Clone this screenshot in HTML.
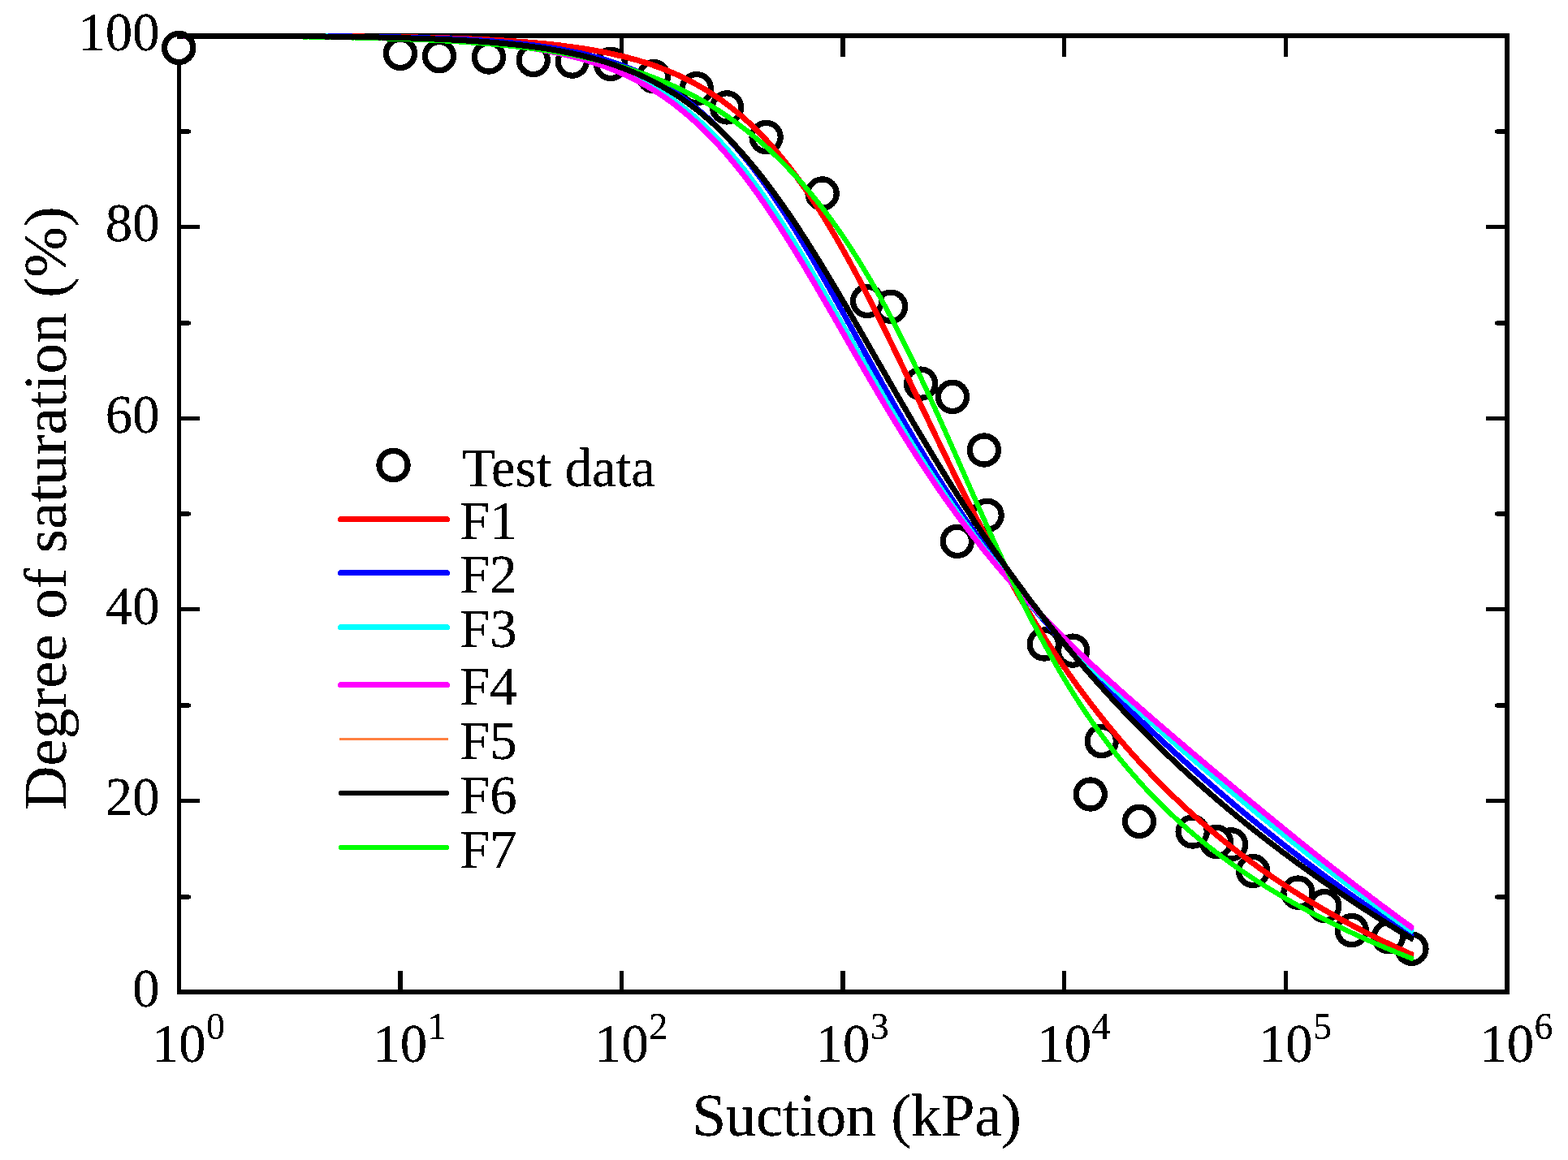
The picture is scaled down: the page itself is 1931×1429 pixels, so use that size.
<!DOCTYPE html>
<html lang="en"><head><meta charset="utf-8"><title>Degree of saturation vs suction</title>
<style>html,body{margin:0;padding:0;background:#fff;}body{width:1931px;height:1429px;overflow:hidden;}svg{display:block;}text{font-family:"Liberation Serif",serif;fill:#000;filter:url(#tf);}</style></head><body>
<svg width="1931" height="1429" viewBox="0 0 1931 1429">
<rect width="1931" height="1429" fill="#fff"/>
<defs><filter id="tf" x="-5%" y="-5%" width="110%" height="110%" color-interpolation-filters="sRGB"><feComponentTransfer><feFuncA type="discrete" tableValues="0 1 1"/></feComponentTransfer></filter><clipPath id="cc"><rect x="0" y="0" width="1741.30" height="1429"/></clipPath></defs>
<g fill="#000" shape-rendering="crispEdges">
<rect x="218" y="41" width="5" height="1184"/>
<rect x="1853" y="41" width="6" height="1184"/>
<rect x="218" y="41" width="1641" height="6"/>
<rect x="218" y="1219" width="1641" height="6"/>
<rect x="490" y="1196" width="6" height="24"/>
<rect x="490" y="46" width="6" height="24"/>
<rect x="763" y="1196" width="5" height="24"/>
<rect x="763" y="46" width="5" height="24"/>
<rect x="1035" y="1196" width="6" height="24"/>
<rect x="1035" y="46" width="6" height="24"/>
<rect x="1308" y="1196" width="5" height="24"/>
<rect x="1308" y="46" width="5" height="24"/>
<rect x="1581" y="1196" width="5" height="24"/>
<rect x="1581" y="46" width="5" height="24"/>
<rect x="222" y="984" width="24" height="5"/>
<rect x="1830" y="984" width="24" height="5"/>
<rect x="222" y="748" width="24" height="5"/>
<rect x="1830" y="748" width="24" height="5"/>
<rect x="222" y="513" width="24" height="5"/>
<rect x="1830" y="513" width="24" height="5"/>
<rect x="222" y="277" width="24" height="5"/>
<rect x="1830" y="277" width="24" height="5"/>
<rect x="222" y="1102" width="11" height="6"/>
<rect x="233" y="1103" width="2" height="4"/>
<rect x="1843" y="1102" width="11" height="6"/>
<rect x="1841" y="1103" width="2" height="4"/>
<rect x="222" y="866" width="11" height="6"/>
<rect x="233" y="867" width="2" height="4"/>
<rect x="1843" y="866" width="11" height="6"/>
<rect x="1841" y="867" width="2" height="4"/>
<rect x="222" y="630" width="11" height="6"/>
<rect x="233" y="631" width="2" height="4"/>
<rect x="1843" y="630" width="11" height="6"/>
<rect x="1841" y="631" width="2" height="4"/>
<rect x="222" y="395" width="11" height="6"/>
<rect x="233" y="396" width="2" height="4"/>
<rect x="1843" y="395" width="11" height="6"/>
<rect x="1841" y="396" width="2" height="4"/>
<rect x="222" y="159" width="11" height="6"/>
<rect x="233" y="160" width="2" height="4"/>
<rect x="1843" y="159" width="11" height="6"/>
<rect x="1841" y="160" width="2" height="4"/>
</g>
<g fill="#fff" stroke="#000" stroke-width="7.20" shape-rendering="crispEdges">
<circle cx="1738.4" cy="1168.7" r="17.60"/>
<circle cx="1709.9" cy="1154.2" r="17.60"/>
<circle cx="1664.7" cy="1146.1" r="17.60"/>
<circle cx="1631.3" cy="1116.1" r="17.60"/>
<circle cx="1598.5" cy="1099.6" r="17.60"/>
<circle cx="1543.1" cy="1073.0" r="17.60"/>
<circle cx="1516.1" cy="1040.3" r="17.60"/>
<circle cx="1498.0" cy="1036.9" r="17.60"/>
<circle cx="1468.7" cy="1024.5" r="17.60"/>
<circle cx="1403.0" cy="1011.9" r="17.60"/>
<circle cx="1342.8" cy="978.5" r="17.60"/>
<circle cx="1356.7" cy="913.0" r="17.60"/>
<circle cx="1321.2" cy="801.6" r="17.60"/>
<circle cx="1285.8" cy="793.5" r="17.60"/>
<circle cx="1178.8" cy="666.8" r="17.60"/>
<circle cx="1215.6" cy="634.8" r="17.60"/>
<circle cx="1211.9" cy="554.5" r="17.60"/>
<circle cx="1173.0" cy="488.8" r="17.60"/>
<circle cx="1134.1" cy="472.6" r="17.60"/>
<circle cx="1097.0" cy="377.7" r="17.60"/>
<circle cx="1068.1" cy="370.8" r="17.60"/>
<circle cx="1012.6" cy="238.5" r="17.60"/>
<circle cx="943.6" cy="169.0" r="17.60"/>
<circle cx="895.1" cy="132.4" r="17.60"/>
<circle cx="857.8" cy="109.2" r="17.60"/>
<circle cx="804.9" cy="94.1" r="17.60"/>
<circle cx="752.1" cy="78.9" r="17.60"/>
<circle cx="704.8" cy="75.6" r="17.60"/>
<circle cx="656.7" cy="73.9" r="17.60"/>
<circle cx="601.9" cy="70.5" r="17.60"/>
<circle cx="541.0" cy="69.1" r="17.60"/>
<circle cx="493.0" cy="65.8" r="17.60"/>
<circle cx="220.2" cy="59.0" r="17.60"/>
</g>
<g fill="none" stroke-width="7.00" stroke-linejoin="round" clip-path="url(#cc)" shape-rendering="crispEdges">
<path stroke="#ff0000" d="M218.0 44.0 L220.4 44.0 L223.4 44.0 L226.4 44.0 L229.4 44.0 L232.4 44.0 L235.4 44.0 L238.4 44.0 L241.4 44.0 L244.4 44.0 L247.4 44.0 L250.4 44.0 L253.4 44.0 L256.4 44.0 L259.4 44.0 L262.4 44.0 L265.4 44.0 L268.4 44.0 L271.4 44.0 L274.4 44.0 L277.4 44.0 L280.4 44.1 L283.4 44.1 L286.4 44.1 L289.4 44.1 L292.4 44.1 L295.4 44.1 L298.4 44.1 L301.4 44.1 L304.4 44.1 L307.4 44.1 L310.4 44.1 L313.4 44.1 L316.4 44.1 L319.4 44.2 L322.4 44.2 L325.4 44.2 L328.4 44.2 L331.4 44.2 L334.4 44.2 L337.4 44.2 L340.4 44.2 L343.4 44.2 L346.4 44.3 L349.4 44.3 L352.4 44.3 L355.4 44.3 L358.4 44.3 L361.4 44.3 L364.4 44.3 L367.4 44.3 L370.4 44.4 L373.4 44.4 L376.4 44.4 L379.4 44.4 L382.4 44.4 L385.4 44.4 L388.4 44.5 L391.4 44.5 L394.4 44.5 L397.4 44.5 L400.4 44.5 L403.4 44.6 L406.4 44.6 L409.4 44.6 L412.4 44.6 L415.4 44.7 L418.4 44.7 L421.4 44.7 L424.4 44.7 L427.4 44.8 L430.4 44.8 L433.4 44.8 L436.4 44.8 L439.4 44.9 L442.4 44.9 L445.4 44.9 L448.4 45.0 L451.4 45.0 L454.4 45.0 L457.4 45.1 L460.4 45.1 L463.4 45.1 L466.4 45.2 L469.4 45.2 L472.4 45.3 L475.4 45.3 L478.4 45.4 L481.4 45.4 L484.4 45.4 L487.4 45.5 L490.4 45.5 L493.4 45.6 L496.4 45.6 L499.4 45.7 L502.4 45.8 L505.4 45.8 L508.4 45.9 L511.4 45.9 L514.4 46.0 L517.4 46.1 L520.4 46.1 L523.4 46.2 L526.4 46.3 L529.4 46.3 L532.4 46.4 L535.4 46.5 L538.4 46.6 L541.4 46.7 L544.4 46.7 L547.4 46.8 L550.4 46.9 L553.4 47.0 L556.4 47.1 L559.4 47.2 L562.4 47.3 L565.4 47.4 L568.4 47.5 L571.4 47.6 L574.4 47.7 L577.4 47.9 L580.4 48.0 L583.4 48.1 L586.4 48.2 L589.4 48.4 L592.4 48.5 L595.4 48.6 L598.4 48.8 L601.4 48.9 L604.4 49.1 L607.4 49.2 L610.4 49.4 L613.4 49.6 L616.4 49.7 L619.4 49.9 L622.4 50.1 L625.4 50.3 L628.4 50.5 L631.4 50.7 L634.4 50.9 L637.4 51.1 L640.4 51.3 L643.4 51.5 L646.4 51.7 L649.4 52.0 L652.4 52.2 L655.4 52.5 L658.4 52.7 L661.4 53.0 L664.4 53.3 L667.4 53.6 L670.4 53.8 L673.4 54.1 L676.4 54.5 L679.4 54.8 L682.4 55.1 L685.4 55.4 L688.4 55.8 L691.4 56.1 L694.4 56.5 L697.4 56.9 L700.4 57.3 L703.4 57.7 L706.4 58.1 L709.4 58.5 L712.4 58.9 L715.4 59.4 L718.4 59.8 L721.4 60.3 L724.4 60.8 L727.4 61.3 L730.4 61.8 L733.4 62.3 L736.4 62.9 L739.4 63.4 L742.4 64.0 L745.4 64.6 L748.4 65.2 L751.4 65.9 L754.4 66.5 L757.4 67.2 L760.4 67.9 L763.4 68.6 L766.4 69.3 L769.4 70.0 L772.4 70.8 L775.4 71.6 L778.4 72.4 L781.4 73.2 L784.4 74.1 L787.4 75.0 L790.4 75.9 L793.4 76.8 L796.4 77.8 L799.4 78.7 L802.4 79.7 L805.4 80.8 L808.4 81.8 L811.4 82.9 L814.4 84.1 L817.4 85.2 L820.4 86.4 L823.4 87.6 L826.4 88.9 L829.4 90.2 L832.4 91.5 L835.4 92.8 L838.4 94.2 L841.4 95.7 L844.4 97.1 L847.4 98.6 L850.4 100.2 L853.4 101.8 L856.4 103.4 L859.4 105.0 L862.4 106.8 L865.4 108.5 L868.4 110.3 L871.4 112.1 L874.4 114.0 L877.4 116.0 L880.4 118.0 L883.4 120.0 L886.4 122.1 L889.4 124.2 L892.4 126.4 L895.4 128.6 L898.4 130.9 L901.4 133.3 L904.4 135.7 L907.4 138.1 L910.4 140.6 L913.4 143.2 L916.4 145.8 L919.4 148.5 L922.4 151.3 L925.4 154.1 L928.4 156.9 L931.4 159.9 L934.4 162.9 L937.4 165.9 L940.4 169.0 L943.4 172.2 L946.4 175.5 L949.4 178.8 L952.4 182.2 L955.4 185.6 L958.4 189.1 L961.4 192.7 L964.4 196.4 L967.4 200.1 L970.4 203.9 L973.4 207.8 L976.4 211.7 L979.4 215.7 L982.4 219.8 L985.4 223.9 L988.4 228.1 L991.4 232.4 L994.4 236.8 L997.4 241.2 L1000.4 245.7 L1003.4 250.2 L1006.4 254.8 L1009.4 259.5 L1012.4 264.3 L1015.4 269.1 L1018.4 274.0 L1021.4 278.9 L1024.4 284.0 L1027.4 289.0 L1030.4 294.2 L1033.4 299.4 L1036.4 304.6 L1039.4 310.0 L1042.4 315.4 L1045.4 320.8 L1048.4 326.3 L1051.4 331.8 L1054.4 337.4 L1057.4 343.1 L1060.4 348.8 L1063.4 354.5 L1066.4 360.3 L1069.4 366.1 L1072.4 372.0 L1075.4 377.9 L1078.4 383.9 L1081.4 389.9 L1084.4 395.9 L1087.4 401.9 L1090.4 408.0 L1093.4 414.1 L1096.4 420.3 L1099.4 426.4 L1102.4 432.6 L1105.4 438.8 L1108.4 445.1 L1111.4 451.3 L1114.4 457.6 L1117.4 463.8 L1120.4 470.1 L1123.4 476.4 L1126.4 482.7 L1129.4 489.0 L1132.4 495.3 L1135.4 501.6 L1138.4 507.9 L1141.4 514.1 L1144.4 520.4 L1147.4 526.7 L1150.4 533.0 L1153.4 539.2 L1156.4 545.4 L1159.4 551.7 L1162.4 557.9 L1165.4 564.0 L1168.4 570.2 L1171.4 576.4 L1174.4 582.5 L1177.4 588.6 L1180.4 594.6 L1183.4 600.7 L1186.4 606.7 L1189.4 612.7 L1192.4 618.6 L1195.4 624.5 L1198.4 630.4 L1201.4 636.3 L1204.4 642.1 L1207.4 647.9 L1210.4 653.6 L1213.4 659.3 L1216.4 665.0 L1219.4 670.6 L1222.4 676.2 L1225.4 681.8 L1228.4 687.3 L1231.4 692.8 L1234.4 698.2 L1237.4 703.6 L1240.4 708.9 L1243.4 714.2 L1246.4 719.5 L1249.4 724.7 L1252.4 729.9 L1255.4 735.0 L1258.4 740.1 L1261.4 745.2 L1264.4 750.2 L1267.4 755.1 L1270.4 760.1 L1273.4 764.9 L1276.4 769.8 L1279.4 774.6 L1282.4 779.3 L1285.4 784.0 L1288.4 788.7 L1291.4 793.3 L1294.4 797.9 L1297.4 802.4 L1300.4 806.9 L1303.4 811.4 L1306.4 815.8 L1309.4 820.2 L1312.4 824.5 L1315.4 828.8 L1318.4 833.0 L1321.4 837.3 L1324.4 841.4 L1327.4 845.6 L1330.4 849.7 L1333.4 853.7 L1336.4 857.8 L1339.4 861.7 L1342.4 865.7 L1345.4 869.6 L1348.4 873.5 L1351.4 877.3 L1354.4 881.1 L1357.4 884.9 L1360.4 888.6 L1363.4 892.3 L1366.4 896.0 L1369.4 899.6 L1372.4 903.2 L1375.4 906.8 L1378.4 910.3 L1381.4 913.8 L1384.4 917.3 L1387.4 920.8 L1390.4 924.2 L1393.4 927.5 L1396.4 930.9 L1399.4 934.2 L1402.4 937.5 L1405.4 940.7 L1408.4 944.0 L1411.4 947.2 L1414.4 950.3 L1417.4 953.5 L1420.4 956.6 L1423.4 959.7 L1426.4 962.8 L1429.4 965.8 L1432.4 968.8 L1435.4 971.8 L1438.4 974.7 L1441.4 977.7 L1444.4 980.6 L1447.4 983.4 L1450.4 986.3 L1453.4 989.1 L1456.4 991.9 L1459.4 994.7 L1462.4 997.5 L1465.4 1000.2 L1468.4 1002.9 L1471.4 1005.6 L1474.4 1008.3 L1477.4 1010.9 L1480.4 1013.5 L1483.4 1016.1 L1486.4 1018.7 L1489.4 1021.2 L1492.4 1023.8 L1495.4 1026.3 L1498.4 1028.8 L1501.4 1031.2 L1504.4 1033.7 L1507.4 1036.1 L1510.4 1038.5 L1513.4 1040.9 L1516.4 1043.3 L1519.4 1045.6 L1522.4 1048.0 L1525.4 1050.3 L1528.4 1052.6 L1531.4 1054.8 L1534.4 1057.1 L1537.4 1059.3 L1540.4 1061.6 L1543.4 1063.8 L1546.4 1065.9 L1549.4 1068.1 L1552.4 1070.3 L1555.4 1072.4 L1558.4 1074.5 L1561.4 1076.6 L1564.4 1078.7 L1567.4 1080.7 L1570.4 1082.8 L1573.4 1084.8 L1576.4 1086.8 L1579.4 1088.8 L1582.4 1090.8 L1585.4 1092.8 L1588.4 1094.7 L1591.4 1096.7 L1594.4 1098.6 L1597.4 1100.5 L1600.4 1102.4 L1603.4 1104.3 L1606.4 1106.1 L1609.4 1108.0 L1612.4 1109.8 L1615.4 1111.7 L1618.4 1113.5 L1621.4 1115.3 L1624.4 1117.0 L1627.4 1118.8 L1630.4 1120.6 L1633.4 1122.3 L1636.4 1124.0 L1639.4 1125.7 L1642.4 1127.4 L1645.4 1129.1 L1648.4 1130.8 L1651.4 1132.5 L1654.4 1134.1 L1657.4 1135.7 L1660.4 1137.4 L1663.4 1139.0 L1666.4 1140.6 L1669.4 1142.2 L1672.4 1143.8 L1675.4 1145.3 L1678.4 1146.9 L1681.4 1148.4 L1684.4 1150.0 L1687.4 1151.5 L1690.4 1153.0 L1693.4 1154.5 L1696.4 1156.0 L1699.4 1157.5 L1702.4 1158.9 L1705.4 1160.4 L1708.4 1161.8 L1711.4 1163.3 L1714.4 1164.7 L1717.4 1166.1 L1720.4 1167.5 L1723.4 1168.9 L1726.4 1170.3 L1729.4 1171.7 L1732.4 1173.1 L1735.4 1174.4 L1738.4 1175.8 L1741.0 1176.9"/>
<path stroke="#0000ff" d="M218.0 44.0 L220.4 44.0 L223.4 44.0 L226.4 44.0 L229.4 44.0 L232.4 44.0 L235.4 44.0 L238.4 44.0 L241.4 44.0 L244.4 44.0 L247.4 44.0 L250.4 44.0 L253.4 44.0 L256.4 44.0 L259.4 44.0 L262.4 44.0 L265.4 44.0 L268.4 44.0 L271.4 44.0 L274.4 44.1 L277.4 44.1 L280.4 44.1 L283.4 44.1 L286.4 44.1 L289.4 44.1 L292.4 44.1 L295.4 44.1 L298.4 44.1 L301.4 44.1 L304.4 44.1 L307.4 44.1 L310.4 44.1 L313.4 44.2 L316.4 44.2 L319.4 44.2 L322.4 44.2 L325.4 44.2 L328.4 44.2 L331.4 44.2 L334.4 44.2 L337.4 44.2 L340.4 44.3 L343.4 44.3 L346.4 44.3 L349.4 44.3 L352.4 44.3 L355.4 44.3 L358.4 44.4 L361.4 44.4 L364.4 44.4 L367.4 44.4 L370.4 44.4 L373.4 44.4 L376.4 44.5 L379.4 44.5 L382.4 44.5 L385.4 44.5 L388.4 44.5 L391.4 44.6 L394.4 44.6 L397.4 44.6 L400.4 44.6 L403.4 44.7 L406.4 44.7 L409.4 44.7 L412.4 44.7 L415.4 44.8 L418.4 44.8 L421.4 44.8 L424.4 44.9 L427.4 44.9 L430.4 44.9 L433.4 45.0 L436.4 45.0 L439.4 45.0 L442.4 45.1 L445.4 45.1 L448.4 45.2 L451.4 45.2 L454.4 45.2 L457.4 45.3 L460.4 45.3 L463.4 45.4 L466.4 45.4 L469.4 45.5 L472.4 45.5 L475.4 45.6 L478.4 45.7 L481.4 45.7 L484.4 45.8 L487.4 45.8 L490.4 45.9 L493.4 46.0 L496.4 46.0 L499.4 46.1 L502.4 46.2 L505.4 46.3 L508.4 46.3 L511.4 46.4 L514.4 46.5 L517.4 46.6 L520.4 46.7 L523.4 46.8 L526.4 46.9 L529.4 47.0 L532.4 47.1 L535.4 47.2 L538.4 47.3 L541.4 47.4 L544.4 47.5 L547.4 47.6 L550.4 47.7 L553.4 47.9 L556.4 48.0 L559.4 48.1 L562.4 48.3 L565.4 48.4 L568.4 48.5 L571.4 48.7 L574.4 48.9 L577.4 49.0 L580.4 49.2 L583.4 49.4 L586.4 49.5 L589.4 49.7 L592.4 49.9 L595.4 50.1 L598.4 50.3 L601.4 50.5 L604.4 50.7 L607.4 50.9 L610.4 51.2 L613.4 51.4 L616.4 51.7 L619.4 51.9 L622.4 52.2 L625.4 52.4 L628.4 52.7 L631.4 53.0 L634.4 53.3 L637.4 53.6 L640.4 53.9 L643.4 54.2 L646.4 54.6 L649.4 54.9 L652.4 55.3 L655.4 55.6 L658.4 56.0 L661.4 56.4 L664.4 56.8 L667.4 57.2 L670.4 57.6 L673.4 58.1 L676.4 58.5 L679.4 59.0 L682.4 59.5 L685.4 60.0 L688.4 60.5 L691.4 61.0 L694.4 61.5 L697.4 62.1 L700.4 62.7 L703.4 63.3 L706.4 63.9 L709.4 64.5 L712.4 65.2 L715.4 65.8 L718.4 66.5 L721.4 67.2 L724.4 68.0 L727.4 68.7 L730.4 69.5 L733.4 70.3 L736.4 71.1 L739.4 72.0 L742.4 72.8 L745.4 73.8 L748.4 74.7 L751.4 75.6 L754.4 76.6 L757.4 77.6 L760.4 78.7 L763.4 79.7 L766.4 80.8 L769.4 82.0 L772.4 83.1 L775.4 84.3 L778.4 85.6 L781.4 86.8 L784.4 88.1 L787.4 89.5 L790.4 90.9 L793.4 92.3 L796.4 93.7 L799.4 95.2 L802.4 96.8 L805.4 98.3 L808.4 100.0 L811.4 101.6 L814.4 103.3 L817.4 105.1 L820.4 106.9 L823.4 108.7 L826.4 110.6 L829.4 112.5 L832.4 114.5 L835.4 116.6 L838.4 118.7 L841.4 120.8 L844.4 123.0 L847.4 125.3 L850.4 127.6 L853.4 129.9 L856.4 132.3 L859.4 134.8 L862.4 137.3 L865.4 139.9 L868.4 142.6 L871.4 145.3 L874.4 148.0 L877.4 150.8 L880.4 153.7 L883.4 156.7 L886.4 159.7 L889.4 162.7 L892.4 165.9 L895.4 169.1 L898.4 172.3 L901.4 175.6 L904.4 179.0 L907.4 182.5 L910.4 186.0 L913.4 189.6 L916.4 193.2 L919.4 196.9 L922.4 200.7 L925.4 204.5 L928.4 208.4 L931.4 212.3 L934.4 216.3 L937.4 220.4 L940.4 224.6 L943.4 228.7 L946.4 233.0 L949.4 237.3 L952.4 241.7 L955.4 246.1 L958.4 250.6 L961.4 255.1 L964.4 259.7 L967.4 264.4 L970.4 269.1 L973.4 273.8 L976.4 278.6 L979.4 283.4 L982.4 288.3 L985.4 293.3 L988.4 298.2 L991.4 303.2 L994.4 308.3 L997.4 313.4 L1000.4 318.5 L1003.4 323.7 L1006.4 328.9 L1009.4 334.1 L1012.4 339.3 L1015.4 344.6 L1018.4 349.9 L1021.4 355.2 L1024.4 360.6 L1027.4 365.9 L1030.4 371.3 L1033.4 376.7 L1036.4 382.1 L1039.4 387.5 L1042.4 392.9 L1045.4 398.4 L1048.4 403.8 L1051.4 409.3 L1054.4 414.7 L1057.4 420.1 L1060.4 425.6 L1063.4 431.0 L1066.4 436.5 L1069.4 441.9 L1072.4 447.3 L1075.4 452.7 L1078.4 458.1 L1081.4 463.5 L1084.4 468.8 L1087.4 474.2 L1090.4 479.5 L1093.4 484.8 L1096.4 490.1 L1099.4 495.4 L1102.4 500.7 L1105.4 505.9 L1108.4 511.1 L1111.4 516.3 L1114.4 521.4 L1117.4 526.6 L1120.4 531.7 L1123.4 536.7 L1126.4 541.8 L1129.4 546.8 L1132.4 551.8 L1135.4 556.7 L1138.4 561.6 L1141.4 566.5 L1144.4 571.4 L1147.4 576.2 L1150.4 581.0 L1153.4 585.7 L1156.4 590.5 L1159.4 595.1 L1162.4 599.8 L1165.4 604.4 L1168.4 609.0 L1171.4 613.6 L1174.4 618.1 L1177.4 622.6 L1180.4 627.0 L1183.4 631.4 L1186.4 635.8 L1189.4 640.2 L1192.4 644.5 L1195.4 648.8 L1198.4 653.0 L1201.4 657.3 L1204.4 661.4 L1207.4 665.6 L1210.4 669.7 L1213.4 673.8 L1216.4 677.9 L1219.4 681.9 L1222.4 685.9 L1225.4 689.9 L1228.4 693.8 L1231.4 697.7 L1234.4 701.6 L1237.4 705.5 L1240.4 709.3 L1243.4 713.1 L1246.4 716.9 L1249.4 720.6 L1252.4 724.4 L1255.4 728.1 L1258.4 731.7 L1261.4 735.4 L1264.4 739.0 L1267.4 742.6 L1270.4 746.2 L1273.4 749.7 L1276.4 753.2 L1279.4 756.7 L1282.4 760.2 L1285.4 763.7 L1288.4 767.1 L1291.4 770.5 L1294.4 773.9 L1297.4 777.3 L1300.4 780.7 L1303.4 784.0 L1306.4 787.3 L1309.4 790.6 L1312.4 793.9 L1315.4 797.2 L1318.4 800.4 L1321.4 803.6 L1324.4 806.9 L1327.4 810.1 L1330.4 813.2 L1333.4 816.4 L1336.4 819.6 L1339.4 822.7 L1342.4 825.8 L1345.4 828.9 L1348.4 832.0 L1351.4 835.1 L1354.4 838.2 L1357.4 841.2 L1360.4 844.3 L1363.4 847.3 L1366.4 850.3 L1369.4 853.3 L1372.4 856.3 L1375.4 859.3 L1378.4 862.2 L1381.4 865.2 L1384.4 868.1 L1387.4 871.1 L1390.4 874.0 L1393.4 876.9 L1396.4 879.8 L1399.4 882.7 L1402.4 885.6 L1405.4 888.4 L1408.4 891.3 L1411.4 894.1 L1414.4 897.0 L1417.4 899.8 L1420.4 902.6 L1423.4 905.4 L1426.4 908.2 L1429.4 911.0 L1432.4 913.8 L1435.4 916.6 L1438.4 919.3 L1441.4 922.1 L1444.4 924.8 L1447.4 927.6 L1450.4 930.3 L1453.4 933.0 L1456.4 935.7 L1459.4 938.4 L1462.4 941.1 L1465.4 943.8 L1468.4 946.5 L1471.4 949.2 L1474.4 951.8 L1477.4 954.5 L1480.4 957.1 L1483.4 959.7 L1486.4 962.4 L1489.4 965.0 L1492.4 967.6 L1495.4 970.2 L1498.4 972.8 L1501.4 975.4 L1504.4 977.9 L1507.4 980.5 L1510.4 983.1 L1513.4 985.6 L1516.4 988.1 L1519.4 990.7 L1522.4 993.2 L1525.4 995.7 L1528.4 998.2 L1531.4 1000.7 L1534.4 1003.2 L1537.4 1005.7 L1540.4 1008.2 L1543.4 1010.6 L1546.4 1013.1 L1549.4 1015.5 L1552.4 1018.0 L1555.4 1020.4 L1558.4 1022.8 L1561.4 1025.2 L1564.4 1027.6 L1567.4 1030.0 L1570.4 1032.4 L1573.4 1034.8 L1576.4 1037.2 L1579.4 1039.5 L1582.4 1041.9 L1585.4 1044.2 L1588.4 1046.6 L1591.4 1048.9 L1594.4 1051.2 L1597.4 1053.5 L1600.4 1055.8 L1603.4 1058.1 L1606.4 1060.4 L1609.4 1062.7 L1612.4 1065.0 L1615.4 1067.2 L1618.4 1069.5 L1621.4 1071.7 L1624.4 1073.9 L1627.4 1076.2 L1630.4 1078.4 L1633.4 1080.6 L1636.4 1082.8 L1639.4 1085.0 L1642.4 1087.2 L1645.4 1089.3 L1648.4 1091.5 L1651.4 1093.7 L1654.4 1095.8 L1657.4 1098.0 L1660.4 1100.1 L1663.4 1102.2 L1666.4 1104.3 L1669.4 1106.4 L1672.4 1108.5 L1675.4 1110.6 L1678.4 1112.7 L1681.4 1114.8 L1684.4 1116.8 L1687.4 1118.9 L1690.4 1121.0 L1693.4 1123.0 L1696.4 1125.0 L1699.4 1127.0 L1702.4 1129.1 L1705.4 1131.1 L1708.4 1133.1 L1711.4 1135.1 L1714.4 1137.0 L1717.4 1139.0 L1720.4 1141.0 L1723.4 1143.0 L1726.4 1144.9 L1729.4 1146.8 L1732.4 1148.8 L1735.4 1150.7 L1738.4 1152.6 L1741.0 1154.3"/>
<path stroke="#00ffff" d="M218.0 44.0 L220.4 44.0 L223.4 44.0 L226.4 44.0 L229.4 44.0 L232.4 44.0 L235.4 44.0 L238.4 44.0 L241.4 44.1 L244.4 44.1 L247.4 44.1 L250.4 44.1 L253.4 44.1 L256.4 44.1 L259.4 44.1 L262.4 44.1 L265.4 44.1 L268.4 44.1 L271.4 44.1 L274.4 44.1 L277.4 44.1 L280.4 44.2 L283.4 44.2 L286.4 44.2 L289.4 44.2 L292.4 44.2 L295.4 44.2 L298.4 44.2 L301.4 44.2 L304.4 44.2 L307.4 44.3 L310.4 44.3 L313.4 44.3 L316.4 44.3 L319.4 44.3 L322.4 44.3 L325.4 44.3 L328.4 44.4 L331.4 44.4 L334.4 44.4 L337.4 44.4 L340.4 44.4 L343.4 44.4 L346.4 44.5 L349.4 44.5 L352.4 44.5 L355.4 44.5 L358.4 44.5 L361.4 44.6 L364.4 44.6 L367.4 44.6 L370.4 44.6 L373.4 44.7 L376.4 44.7 L379.4 44.7 L382.4 44.7 L385.4 44.8 L388.4 44.8 L391.4 44.8 L394.4 44.9 L397.4 44.9 L400.4 44.9 L403.4 45.0 L406.4 45.0 L409.4 45.0 L412.4 45.1 L415.4 45.1 L418.4 45.2 L421.4 45.2 L424.4 45.2 L427.4 45.3 L430.4 45.3 L433.4 45.4 L436.4 45.4 L439.4 45.5 L442.4 45.5 L445.4 45.6 L448.4 45.6 L451.4 45.7 L454.4 45.7 L457.4 45.8 L460.4 45.9 L463.4 45.9 L466.4 46.0 L469.4 46.1 L472.4 46.1 L475.4 46.2 L478.4 46.3 L481.4 46.3 L484.4 46.4 L487.4 46.5 L490.4 46.6 L493.4 46.7 L496.4 46.8 L499.4 46.9 L502.4 46.9 L505.4 47.0 L508.4 47.1 L511.4 47.2 L514.4 47.4 L517.4 47.5 L520.4 47.6 L523.4 47.7 L526.4 47.8 L529.4 47.9 L532.4 48.1 L535.4 48.2 L538.4 48.3 L541.4 48.5 L544.4 48.6 L547.4 48.8 L550.4 48.9 L553.4 49.1 L556.4 49.2 L559.4 49.4 L562.4 49.6 L565.4 49.8 L568.4 49.9 L571.4 50.1 L574.4 50.3 L577.4 50.5 L580.4 50.7 L583.4 51.0 L586.4 51.2 L589.4 51.4 L592.4 51.6 L595.4 51.9 L598.4 52.1 L601.4 52.4 L604.4 52.7 L607.4 52.9 L610.4 53.2 L613.4 53.5 L616.4 53.8 L619.4 54.1 L622.4 54.4 L625.4 54.8 L628.4 55.1 L631.4 55.4 L634.4 55.8 L637.4 56.2 L640.4 56.5 L643.4 56.9 L646.4 57.3 L649.4 57.7 L652.4 58.2 L655.4 58.6 L658.4 59.1 L661.4 59.5 L664.4 60.0 L667.4 60.5 L670.4 61.0 L673.4 61.5 L676.4 62.1 L679.4 62.6 L682.4 63.2 L685.4 63.8 L688.4 64.4 L691.4 65.0 L694.4 65.7 L697.4 66.3 L700.4 67.0 L703.4 67.7 L706.4 68.5 L709.4 69.2 L712.4 70.0 L715.4 70.7 L718.4 71.6 L721.4 72.4 L724.4 73.2 L727.4 74.1 L730.4 75.0 L733.4 76.0 L736.4 76.9 L739.4 77.9 L742.4 78.9 L745.4 79.9 L748.4 81.0 L751.4 82.1 L754.4 83.2 L757.4 84.4 L760.4 85.6 L763.4 86.8 L766.4 88.1 L769.4 89.4 L772.4 90.7 L775.4 92.0 L778.4 93.4 L781.4 94.9 L784.4 96.4 L787.4 97.9 L790.4 99.4 L793.4 101.0 L796.4 102.6 L799.4 104.3 L802.4 106.0 L805.4 107.8 L808.4 109.6 L811.4 111.4 L814.4 113.3 L817.4 115.2 L820.4 117.2 L823.4 119.3 L826.4 121.3 L829.4 123.5 L832.4 125.7 L835.4 127.9 L838.4 130.2 L841.4 132.5 L844.4 134.9 L847.4 137.3 L850.4 139.8 L853.4 142.4 L856.4 145.0 L859.4 147.6 L862.4 150.4 L865.4 153.1 L868.4 156.0 L871.4 158.8 L874.4 161.8 L877.4 164.8 L880.4 167.9 L883.4 171.0 L886.4 174.2 L889.4 177.4 L892.4 180.7 L895.4 184.1 L898.4 187.5 L901.4 190.9 L904.4 194.5 L907.4 198.1 L910.4 201.7 L913.4 205.5 L916.4 209.2 L919.4 213.1 L922.4 217.0 L925.4 220.9 L928.4 224.9 L931.4 229.0 L934.4 233.1 L937.4 237.3 L940.4 241.5 L943.4 245.8 L946.4 250.1 L949.4 254.5 L952.4 258.9 L955.4 263.4 L958.4 267.9 L961.4 272.5 L964.4 277.1 L967.4 281.8 L970.4 286.5 L973.4 291.3 L976.4 296.1 L979.4 300.9 L982.4 305.8 L985.4 310.7 L988.4 315.7 L991.4 320.6 L994.4 325.7 L997.4 330.7 L1000.4 335.8 L1003.4 340.9 L1006.4 346.0 L1009.4 351.1 L1012.4 356.3 L1015.4 361.5 L1018.4 366.7 L1021.4 371.9 L1024.4 377.1 L1027.4 382.4 L1030.4 387.6 L1033.4 392.9 L1036.4 398.2 L1039.4 403.5 L1042.4 408.7 L1045.4 414.0 L1048.4 419.3 L1051.4 424.6 L1054.4 429.9 L1057.4 435.1 L1060.4 440.4 L1063.4 445.7 L1066.4 450.9 L1069.4 456.2 L1072.4 461.4 L1075.4 466.6 L1078.4 471.8 L1081.4 477.0 L1084.4 482.1 L1087.4 487.3 L1090.4 492.4 L1093.4 497.5 L1096.4 502.6 L1099.4 507.7 L1102.4 512.7 L1105.4 517.7 L1108.4 522.7 L1111.4 527.7 L1114.4 532.6 L1117.4 537.5 L1120.4 542.4 L1123.4 547.2 L1126.4 552.0 L1129.4 556.8 L1132.4 561.6 L1135.4 566.3 L1138.4 571.0 L1141.4 575.7 L1144.4 580.3 L1147.4 584.9 L1150.4 589.4 L1153.4 594.0 L1156.4 598.5 L1159.4 602.9 L1162.4 607.4 L1165.4 611.7 L1168.4 616.1 L1171.4 620.4 L1174.4 624.7 L1177.4 629.0 L1180.4 633.2 L1183.4 637.4 L1186.4 641.6 L1189.4 645.7 L1192.4 649.8 L1195.4 653.8 L1198.4 657.9 L1201.4 661.9 L1204.4 665.8 L1207.4 669.8 L1210.4 673.7 L1213.4 677.5 L1216.4 681.4 L1219.4 685.2 L1222.4 689.0 L1225.4 692.7 L1228.4 696.4 L1231.4 700.1 L1234.4 703.8 L1237.4 707.4 L1240.4 711.0 L1243.4 714.6 L1246.4 718.1 L1249.4 721.7 L1252.4 725.2 L1255.4 728.6 L1258.4 732.1 L1261.4 735.5 L1264.4 738.9 L1267.4 742.3 L1270.4 745.6 L1273.4 748.9 L1276.4 752.2 L1279.4 755.5 L1282.4 758.8 L1285.4 762.0 L1288.4 765.2 L1291.4 768.4 L1294.4 771.6 L1297.4 774.8 L1300.4 777.9 L1303.4 781.0 L1306.4 784.2 L1309.4 787.2 L1312.4 790.3 L1315.4 793.4 L1318.4 796.4 L1321.4 799.4 L1324.4 802.4 L1327.4 805.4 L1330.4 808.4 L1333.4 811.3 L1336.4 814.3 L1339.4 817.2 L1342.4 820.1 L1345.4 823.0 L1348.4 825.9 L1351.4 828.8 L1354.4 831.7 L1357.4 834.5 L1360.4 837.4 L1363.4 840.2 L1366.4 843.0 L1369.4 845.8 L1372.4 848.7 L1375.4 851.4 L1378.4 854.2 L1381.4 857.0 L1384.4 859.8 L1387.4 862.5 L1390.4 865.3 L1393.4 868.0 L1396.4 870.7 L1399.4 873.5 L1402.4 876.2 L1405.4 878.9 L1408.4 881.6 L1411.4 884.3 L1414.4 887.0 L1417.4 889.7 L1420.4 892.3 L1423.4 895.0 L1426.4 897.7 L1429.4 900.3 L1432.4 903.0 L1435.4 905.6 L1438.4 908.3 L1441.4 910.9 L1444.4 913.5 L1447.4 916.2 L1450.4 918.8 L1453.4 921.4 L1456.4 924.0 L1459.4 926.6 L1462.4 929.2 L1465.4 931.8 L1468.4 934.4 L1471.4 937.0 L1474.4 939.6 L1477.4 942.2 L1480.4 944.7 L1483.4 947.3 L1486.4 949.9 L1489.4 952.4 L1492.4 955.0 L1495.4 957.5 L1498.4 960.1 L1501.4 962.6 L1504.4 965.2 L1507.4 967.7 L1510.4 970.2 L1513.4 972.7 L1516.4 975.3 L1519.4 977.8 L1522.4 980.3 L1525.4 982.8 L1528.4 985.3 L1531.4 987.8 L1534.4 990.3 L1537.4 992.8 L1540.4 995.3 L1543.4 997.8 L1546.4 1000.2 L1549.4 1002.7 L1552.4 1005.2 L1555.4 1007.6 L1558.4 1010.1 L1561.4 1012.5 L1564.4 1015.0 L1567.4 1017.4 L1570.4 1019.9 L1573.4 1022.3 L1576.4 1024.7 L1579.4 1027.1 L1582.4 1029.5 L1585.4 1032.0 L1588.4 1034.4 L1591.4 1036.8 L1594.4 1039.2 L1597.4 1041.5 L1600.4 1043.9 L1603.4 1046.3 L1606.4 1048.7 L1609.4 1051.0 L1612.4 1053.4 L1615.4 1055.7 L1618.4 1058.1 L1621.4 1060.4 L1624.4 1062.8 L1627.4 1065.1 L1630.4 1067.4 L1633.4 1069.7 L1636.4 1072.0 L1639.4 1074.3 L1642.4 1076.6 L1645.4 1078.9 L1648.4 1081.2 L1651.4 1083.5 L1654.4 1085.7 L1657.4 1088.0 L1660.4 1090.3 L1663.4 1092.5 L1666.4 1094.8 L1669.4 1097.0 L1672.4 1099.2 L1675.4 1101.4 L1678.4 1103.7 L1681.4 1105.9 L1684.4 1108.1 L1687.4 1110.3 L1690.4 1112.5 L1693.4 1114.6 L1696.4 1116.8 L1699.4 1119.0 L1702.4 1121.1 L1705.4 1123.3 L1708.4 1125.4 L1711.4 1127.6 L1714.4 1129.7 L1717.4 1131.8 L1720.4 1133.9 L1723.4 1136.0 L1726.4 1138.2 L1729.4 1140.2 L1732.4 1142.3 L1735.4 1144.4 L1738.4 1146.5 L1741.0 1148.3"/>
<path stroke="#ff00ff" d="M218.0 44.0 L220.4 44.0 L223.4 44.0 L226.4 44.0 L229.4 44.0 L232.4 44.0 L235.4 44.1 L238.4 44.1 L241.4 44.1 L244.4 44.1 L247.4 44.1 L250.4 44.1 L253.4 44.1 L256.4 44.1 L259.4 44.1 L262.4 44.1 L265.4 44.1 L268.4 44.1 L271.4 44.1 L274.4 44.2 L277.4 44.2 L280.4 44.2 L283.4 44.2 L286.4 44.2 L289.4 44.2 L292.4 44.2 L295.4 44.2 L298.4 44.2 L301.4 44.3 L304.4 44.3 L307.4 44.3 L310.4 44.3 L313.4 44.3 L316.4 44.3 L319.4 44.3 L322.4 44.4 L325.4 44.4 L328.4 44.4 L331.4 44.4 L334.4 44.4 L337.4 44.4 L340.4 44.5 L343.4 44.5 L346.4 44.5 L349.4 44.5 L352.4 44.5 L355.4 44.6 L358.4 44.6 L361.4 44.6 L364.4 44.6 L367.4 44.7 L370.4 44.7 L373.4 44.7 L376.4 44.7 L379.4 44.8 L382.4 44.8 L385.4 44.8 L388.4 44.9 L391.4 44.9 L394.4 44.9 L397.4 45.0 L400.4 45.0 L403.4 45.0 L406.4 45.1 L409.4 45.1 L412.4 45.1 L415.4 45.2 L418.4 45.2 L421.4 45.3 L424.4 45.3 L427.4 45.4 L430.4 45.4 L433.4 45.5 L436.4 45.5 L439.4 45.6 L442.4 45.6 L445.4 45.7 L448.4 45.7 L451.4 45.8 L454.4 45.9 L457.4 45.9 L460.4 46.0 L463.4 46.1 L466.4 46.1 L469.4 46.2 L472.4 46.3 L475.4 46.3 L478.4 46.4 L481.4 46.5 L484.4 46.6 L487.4 46.7 L490.4 46.8 L493.4 46.8 L496.4 46.9 L499.4 47.0 L502.4 47.1 L505.4 47.2 L508.4 47.3 L511.4 47.5 L514.4 47.6 L517.4 47.7 L520.4 47.8 L523.4 47.9 L526.4 48.1 L529.4 48.2 L532.4 48.3 L535.4 48.5 L538.4 48.6 L541.4 48.8 L544.4 48.9 L547.4 49.1 L550.4 49.2 L553.4 49.4 L556.4 49.6 L559.4 49.8 L562.4 49.9 L565.4 50.1 L568.4 50.3 L571.4 50.5 L574.4 50.7 L577.4 50.9 L580.4 51.2 L583.4 51.4 L586.4 51.6 L589.4 51.9 L592.4 52.1 L595.4 52.4 L598.4 52.6 L601.4 52.9 L604.4 53.2 L607.4 53.5 L610.4 53.8 L613.4 54.1 L616.4 54.4 L619.4 54.7 L622.4 55.1 L625.4 55.4 L628.4 55.8 L631.4 56.1 L634.4 56.5 L637.4 56.9 L640.4 57.3 L643.4 57.7 L646.4 58.2 L649.4 58.6 L652.4 59.1 L655.4 59.5 L658.4 60.0 L661.4 60.5 L664.4 61.0 L667.4 61.5 L670.4 62.1 L673.4 62.6 L676.4 63.2 L679.4 63.8 L682.4 64.4 L685.4 65.0 L688.4 65.7 L691.4 66.3 L694.4 67.0 L697.4 67.7 L700.4 68.4 L703.4 69.2 L706.4 69.9 L709.4 70.7 L712.4 71.5 L715.4 72.4 L718.4 73.2 L721.4 74.1 L724.4 75.0 L727.4 75.9 L730.4 76.9 L733.4 77.9 L736.4 78.9 L739.4 79.9 L742.4 81.0 L745.4 82.1 L748.4 83.2 L751.4 84.4 L754.4 85.5 L757.4 86.8 L760.4 88.0 L763.4 89.3 L766.4 90.6 L769.4 92.0 L772.4 93.4 L775.4 94.8 L778.4 96.3 L781.4 97.8 L784.4 99.3 L787.4 100.9 L790.4 102.6 L793.4 104.2 L796.4 105.9 L799.4 107.7 L802.4 109.5 L805.4 111.3 L808.4 113.2 L811.4 115.2 L814.4 117.1 L817.4 119.2 L820.4 121.2 L823.4 123.4 L826.4 125.5 L829.4 127.8 L832.4 130.0 L835.4 132.4 L838.4 134.7 L841.4 137.2 L844.4 139.7 L847.4 142.2 L850.4 144.8 L853.4 147.5 L856.4 150.2 L859.4 152.9 L862.4 155.8 L865.4 158.6 L868.4 161.6 L871.4 164.6 L874.4 167.6 L877.4 170.7 L880.4 173.9 L883.4 177.1 L886.4 180.4 L889.4 183.8 L892.4 187.2 L895.4 190.6 L898.4 194.1 L901.4 197.7 L904.4 201.4 L907.4 205.1 L910.4 208.8 L913.4 212.6 L916.4 216.5 L919.4 220.4 L922.4 224.4 L925.4 228.5 L928.4 232.6 L931.4 236.7 L934.4 240.9 L937.4 245.2 L940.4 249.5 L943.4 253.8 L946.4 258.2 L949.4 262.7 L952.4 267.2 L955.4 271.8 L958.4 276.4 L961.4 281.0 L964.4 285.7 L967.4 290.4 L970.4 295.2 L973.4 300.0 L976.4 304.8 L979.4 309.7 L982.4 314.6 L985.4 319.6 L988.4 324.5 L991.4 329.5 L994.4 334.6 L997.4 339.6 L1000.4 344.7 L1003.4 349.8 L1006.4 354.9 L1009.4 360.1 L1012.4 365.2 L1015.4 370.4 L1018.4 375.6 L1021.4 380.8 L1024.4 386.0 L1027.4 391.2 L1030.4 396.4 L1033.4 401.7 L1036.4 406.9 L1039.4 412.1 L1042.4 417.4 L1045.4 422.6 L1048.4 427.8 L1051.4 433.0 L1054.4 438.3 L1057.4 443.5 L1060.4 448.7 L1063.4 453.8 L1066.4 459.0 L1069.4 464.2 L1072.4 469.3 L1075.4 474.4 L1078.4 479.5 L1081.4 484.6 L1084.4 489.7 L1087.4 494.7 L1090.4 499.8 L1093.4 504.8 L1096.4 509.7 L1099.4 514.7 L1102.4 519.6 L1105.4 524.5 L1108.4 529.4 L1111.4 534.2 L1114.4 539.0 L1117.4 543.8 L1120.4 548.6 L1123.4 553.3 L1126.4 558.0 L1129.4 562.6 L1132.4 567.3 L1135.4 571.9 L1138.4 576.4 L1141.4 580.9 L1144.4 585.4 L1147.4 589.9 L1150.4 594.3 L1153.4 598.7 L1156.4 603.1 L1159.4 607.4 L1162.4 611.7 L1165.4 616.0 L1168.4 620.2 L1171.4 624.4 L1174.4 628.5 L1177.4 632.6 L1180.4 636.7 L1183.4 640.8 L1186.4 644.8 L1189.4 648.8 L1192.4 652.7 L1195.4 656.7 L1198.4 660.6 L1201.4 664.4 L1204.4 668.2 L1207.4 672.0 L1210.4 675.8 L1213.4 679.5 L1216.4 683.2 L1219.4 686.9 L1222.4 690.5 L1225.4 694.2 L1228.4 697.7 L1231.4 701.3 L1234.4 704.8 L1237.4 708.3 L1240.4 711.8 L1243.4 715.2 L1246.4 718.7 L1249.4 722.1 L1252.4 725.4 L1255.4 728.8 L1258.4 732.1 L1261.4 735.4 L1264.4 738.6 L1267.4 741.9 L1270.4 745.1 L1273.4 748.3 L1276.4 751.5 L1279.4 754.6 L1282.4 757.8 L1285.4 760.9 L1288.4 764.0 L1291.4 767.1 L1294.4 770.1 L1297.4 773.2 L1300.4 776.2 L1303.4 779.2 L1306.4 782.2 L1309.4 785.1 L1312.4 788.1 L1315.4 791.0 L1318.4 793.9 L1321.4 796.8 L1324.4 799.7 L1327.4 802.6 L1330.4 805.4 L1333.4 808.3 L1336.4 811.1 L1339.4 813.9 L1342.4 816.8 L1345.4 819.5 L1348.4 822.3 L1351.4 825.1 L1354.4 827.9 L1357.4 830.6 L1360.4 833.4 L1363.4 836.1 L1366.4 838.8 L1369.4 841.5 L1372.4 844.2 L1375.4 846.9 L1378.4 849.6 L1381.4 852.3 L1384.4 854.9 L1387.4 857.6 L1390.4 860.3 L1393.4 862.9 L1396.4 865.5 L1399.4 868.2 L1402.4 870.8 L1405.4 873.4 L1408.4 876.0 L1411.4 878.7 L1414.4 881.3 L1417.4 883.9 L1420.4 886.5 L1423.4 889.0 L1426.4 891.6 L1429.4 894.2 L1432.4 896.8 L1435.4 899.4 L1438.4 901.9 L1441.4 904.5 L1444.4 907.1 L1447.4 909.6 L1450.4 912.2 L1453.4 914.7 L1456.4 917.3 L1459.4 919.8 L1462.4 922.4 L1465.4 924.9 L1468.4 927.5 L1471.4 930.0 L1474.4 932.5 L1477.4 935.1 L1480.4 937.6 L1483.4 940.1 L1486.4 942.6 L1489.4 945.2 L1492.4 947.7 L1495.4 950.2 L1498.4 952.7 L1501.4 955.2 L1504.4 957.7 L1507.4 960.2 L1510.4 962.7 L1513.4 965.2 L1516.4 967.7 L1519.4 970.2 L1522.4 972.7 L1525.4 975.2 L1528.4 977.7 L1531.4 980.2 L1534.4 982.7 L1537.4 985.2 L1540.4 987.7 L1543.4 990.2 L1546.4 992.6 L1549.4 995.1 L1552.4 997.6 L1555.4 1000.0 L1558.4 1002.5 L1561.4 1005.0 L1564.4 1007.4 L1567.4 1009.9 L1570.4 1012.3 L1573.4 1014.8 L1576.4 1017.2 L1579.4 1019.7 L1582.4 1022.1 L1585.4 1024.6 L1588.4 1027.0 L1591.4 1029.4 L1594.4 1031.8 L1597.4 1034.3 L1600.4 1036.7 L1603.4 1039.1 L1606.4 1041.5 L1609.4 1043.9 L1612.4 1046.3 L1615.4 1048.7 L1618.4 1051.1 L1621.4 1053.5 L1624.4 1055.9 L1627.4 1058.3 L1630.4 1060.6 L1633.4 1063.0 L1636.4 1065.4 L1639.4 1067.7 L1642.4 1070.1 L1645.4 1072.4 L1648.4 1074.8 L1651.4 1077.1 L1654.4 1079.5 L1657.4 1081.8 L1660.4 1084.1 L1663.4 1086.4 L1666.4 1088.8 L1669.4 1091.1 L1672.4 1093.4 L1675.4 1095.7 L1678.4 1098.0 L1681.4 1100.2 L1684.4 1102.5 L1687.4 1104.8 L1690.4 1107.1 L1693.4 1109.3 L1696.4 1111.6 L1699.4 1113.8 L1702.4 1116.1 L1705.4 1118.3 L1708.4 1120.5 L1711.4 1122.8 L1714.4 1125.0 L1717.4 1127.2 L1720.4 1129.4 L1723.4 1131.6 L1726.4 1133.8 L1729.4 1136.0 L1732.4 1138.2 L1735.4 1140.3 L1738.4 1142.5 L1741.0 1144.4"/>
<path stroke="#00ff00" stroke-width="6.20" d="M218.0 44.3 L220.4 44.3 L223.4 44.3 L226.4 44.3 L229.4 44.3 L232.4 44.3 L235.4 44.3 L238.4 44.3 L241.4 44.3 L244.4 44.4 L247.4 44.4 L250.4 44.4 L253.4 44.4 L256.4 44.4 L259.4 44.4 L262.4 44.4 L265.4 44.4 L268.4 44.5 L271.4 44.5 L274.4 44.5 L277.4 44.5 L280.4 44.5 L283.4 44.5 L286.4 44.6 L289.4 44.6 L292.4 44.6 L295.4 44.6 L298.4 44.6 L301.4 44.7 L304.4 44.7 L307.4 44.7 L310.4 44.7 L313.4 44.8 L316.4 44.8 L319.4 44.8 L322.4 44.8 L325.4 44.9 L328.4 44.9 L331.4 44.9 L334.4 44.9 L337.4 45.0 L340.4 45.0 L343.4 45.0 L346.4 45.0 L349.4 45.1 L352.4 45.1 L355.4 45.1 L358.4 45.2 L361.4 45.2 L364.4 45.2 L367.4 45.3 L370.4 45.3 L373.4 45.4 L376.4 45.4 L379.4 45.4 L382.4 45.5 L385.4 45.5 L388.4 45.6 L391.4 45.6 L394.4 45.7 L397.4 45.7 L400.4 45.7 L403.4 45.8 L406.4 45.8 L409.4 45.9 L412.4 45.9 L415.4 46.0 L418.4 46.1 L421.4 46.1 L424.4 46.2 L427.4 46.2 L430.4 46.3 L433.4 46.4 L436.4 46.4 L439.4 46.5 L442.4 46.6 L445.4 46.6 L448.4 46.7 L451.4 46.8 L454.4 46.8 L457.4 46.9 L460.4 47.0 L463.4 47.1 L466.4 47.2 L469.4 47.2 L472.4 47.3 L475.4 47.4 L478.4 47.5 L481.4 47.6 L484.4 47.7 L487.4 47.8 L490.4 47.9 L493.4 48.0 L496.4 48.1 L499.4 48.2 L502.4 48.3 L505.4 48.4 L508.4 48.6 L511.4 48.7 L514.4 48.8 L517.4 48.9 L520.4 49.1 L523.4 49.2 L526.4 49.3 L529.4 49.5 L532.4 49.6 L535.4 49.8 L538.4 49.9 L541.4 50.1 L544.4 50.2 L547.4 50.4 L550.4 50.5 L553.4 50.7 L556.4 50.9 L559.4 51.1 L562.4 51.3 L565.4 51.4 L568.4 51.6 L571.4 51.8 L574.4 52.0 L577.4 52.2 L580.4 52.4 L583.4 52.7 L586.4 52.9 L589.4 53.1 L592.4 53.3 L595.4 53.6 L598.4 53.8 L601.4 54.1 L604.4 54.3 L607.4 54.6 L610.4 54.9 L613.4 55.1 L616.4 55.4 L619.4 55.7 L622.4 56.0 L625.4 56.3 L628.4 56.6 L631.4 56.9 L634.4 57.3 L637.4 57.6 L640.4 58.0 L643.4 58.3 L646.4 58.7 L649.4 59.0 L652.4 59.4 L655.4 59.8 L658.4 60.2 L661.4 60.6 L664.4 61.0 L667.4 61.4 L670.4 61.9 L673.4 62.3 L676.4 62.8 L679.4 63.2 L682.4 63.7 L685.4 64.2 L688.4 64.7 L691.4 65.2 L694.4 65.7 L697.4 66.2 L700.4 66.8 L703.4 67.3 L706.4 67.9 L709.4 68.5 L712.4 69.1 L715.4 69.7 L718.4 70.3 L721.4 71.0 L724.4 71.6 L727.4 72.3 L730.4 73.0 L733.4 73.7 L736.4 74.4 L739.4 75.1 L742.4 75.8 L745.4 76.6 L748.4 77.4 L751.4 78.2 L754.4 79.0 L757.4 79.8 L760.4 80.7 L763.4 81.5 L766.4 82.4 L769.4 83.3 L772.4 84.2 L775.4 85.2 L778.4 86.1 L781.4 87.1 L784.4 88.1 L787.4 89.1 L790.4 90.2 L793.4 91.3 L796.4 92.3 L799.4 93.5 L802.4 94.6 L805.4 95.7 L808.4 96.9 L811.4 98.1 L814.4 99.4 L817.4 100.6 L820.4 101.9 L823.4 103.2 L826.4 104.5 L829.4 105.9 L832.4 107.3 L835.4 108.7 L838.4 110.1 L841.4 111.6 L844.4 113.1 L847.4 114.6 L850.4 116.1 L853.4 117.7 L856.4 119.3 L859.4 120.9 L862.4 122.6 L865.4 124.3 L868.4 126.0 L871.4 127.8 L874.4 129.6 L877.4 131.4 L880.4 133.3 L883.4 135.2 L886.4 137.1 L889.4 139.1 L892.4 141.1 L895.4 143.1 L898.4 145.2 L901.4 147.3 L904.4 149.4 L907.4 151.6 L910.4 153.8 L913.4 156.1 L916.4 158.4 L919.4 160.7 L922.4 163.1 L925.4 165.5 L928.4 168.0 L931.4 170.5 L934.4 173.0 L937.4 175.6 L940.4 178.2 L943.4 180.9 L946.4 183.6 L949.4 186.3 L952.4 189.1 L955.4 192.0 L958.4 194.9 L961.4 197.8 L964.4 200.8 L967.4 203.9 L970.4 207.0 L973.4 210.1 L976.4 213.3 L979.4 216.5 L982.4 219.8 L985.4 223.2 L988.4 226.6 L991.4 230.0 L994.4 233.5 L997.4 237.1 L1000.4 240.7 L1003.4 244.4 L1006.4 248.1 L1009.4 251.9 L1012.4 255.8 L1015.4 259.7 L1018.4 263.6 L1021.4 267.7 L1024.4 271.7 L1027.4 275.9 L1030.4 280.1 L1033.4 284.4 L1036.4 288.7 L1039.4 293.1 L1042.4 297.6 L1045.4 302.1 L1048.4 306.7 L1051.4 311.4 L1054.4 316.1 L1057.4 320.9 L1060.4 325.8 L1063.4 330.7 L1066.4 335.7 L1069.4 340.7 L1072.4 345.9 L1075.4 351.1 L1078.4 356.3 L1081.4 361.7 L1084.4 367.1 L1087.4 372.5 L1090.4 378.1 L1093.4 383.6 L1096.4 389.3 L1099.4 395.0 L1102.4 400.8 L1105.4 406.7 L1108.4 412.6 L1111.4 418.5 L1114.4 424.6 L1117.4 430.7 L1120.4 436.8 L1123.4 443.0 L1126.4 449.2 L1129.4 455.5 L1132.4 461.9 L1135.4 468.3 L1138.4 474.7 L1141.4 481.2 L1144.4 487.8 L1147.4 494.3 L1150.4 500.9 L1153.4 507.6 L1156.4 514.3 L1159.4 521.0 L1162.4 527.7 L1165.4 534.4 L1168.4 541.2 L1171.4 548.0 L1174.4 554.8 L1177.4 561.6 L1180.4 568.4 L1183.4 575.3 L1186.4 582.1 L1189.4 588.9 L1192.4 595.8 L1195.4 602.6 L1198.4 609.4 L1201.4 616.2 L1204.4 623.0 L1207.4 629.8 L1210.4 636.5 L1213.4 643.2 L1216.4 649.9 L1219.4 656.6 L1222.4 663.2 L1225.4 669.8 L1228.4 676.4 L1231.4 682.9 L1234.4 689.4 L1237.4 695.9 L1240.4 702.3 L1243.4 708.6 L1246.4 715.0 L1249.4 721.2 L1252.4 727.4 L1255.4 733.6 L1258.4 739.7 L1261.4 745.7 L1264.4 751.7 L1267.4 757.6 L1270.4 763.5 L1273.4 769.3 L1276.4 775.0 L1279.4 780.7 L1282.4 786.4 L1285.4 791.9 L1288.4 797.4 L1291.4 802.9 L1294.4 808.2 L1297.4 813.5 L1300.4 818.8 L1303.4 824.0 L1306.4 829.1 L1309.4 834.2 L1312.4 839.1 L1315.4 844.1 L1318.4 848.9 L1321.4 853.8 L1324.4 858.5 L1327.4 863.2 L1330.4 867.8 L1333.4 872.4 L1336.4 876.9 L1339.4 881.3 L1342.4 885.7 L1345.4 890.0 L1348.4 894.3 L1351.4 898.5 L1354.4 902.7 L1357.4 906.8 L1360.4 910.8 L1363.4 914.8 L1366.4 918.7 L1369.4 922.6 L1372.4 926.5 L1375.4 930.3 L1378.4 934.0 L1381.4 937.7 L1384.4 941.3 L1387.4 944.9 L1390.4 948.4 L1393.4 951.9 L1396.4 955.4 L1399.4 958.8 L1402.4 962.2 L1405.4 965.5 L1408.4 968.8 L1411.4 972.0 L1414.4 975.2 L1417.4 978.3 L1420.4 981.5 L1423.4 984.5 L1426.4 987.6 L1429.4 990.6 L1432.4 993.5 L1435.4 996.5 L1438.4 999.3 L1441.4 1002.2 L1444.4 1005.0 L1447.4 1007.8 L1450.4 1010.6 L1453.4 1013.3 L1456.4 1016.0 L1459.4 1018.6 L1462.4 1021.3 L1465.4 1023.9 L1468.4 1026.4 L1471.4 1029.0 L1474.4 1031.5 L1477.4 1033.9 L1480.4 1036.4 L1483.4 1038.8 L1486.4 1041.2 L1489.4 1043.6 L1492.4 1045.9 L1495.4 1048.3 L1498.4 1050.6 L1501.4 1052.8 L1504.4 1055.1 L1507.4 1057.3 L1510.4 1059.5 L1513.4 1061.7 L1516.4 1063.8 L1519.4 1066.0 L1522.4 1068.1 L1525.4 1070.2 L1528.4 1072.3 L1531.4 1074.3 L1534.4 1076.3 L1537.4 1078.4 L1540.4 1080.3 L1543.4 1082.3 L1546.4 1084.3 L1549.4 1086.2 L1552.4 1088.1 L1555.4 1090.0 L1558.4 1091.9 L1561.4 1093.8 L1564.4 1095.6 L1567.4 1097.4 L1570.4 1099.2 L1573.4 1101.0 L1576.4 1102.8 L1579.4 1104.6 L1582.4 1106.3 L1585.4 1108.1 L1588.4 1109.8 L1591.4 1111.5 L1594.4 1113.2 L1597.4 1114.9 L1600.4 1116.5 L1603.4 1118.2 L1606.4 1119.8 L1609.4 1121.4 L1612.4 1123.0 L1615.4 1124.6 L1618.4 1126.2 L1621.4 1127.8 L1624.4 1129.3 L1627.4 1130.9 L1630.4 1132.4 L1633.4 1133.9 L1636.4 1135.4 L1639.4 1136.9 L1642.4 1138.4 L1645.4 1139.9 L1648.4 1141.3 L1651.4 1142.8 L1654.4 1144.2 L1657.4 1145.7 L1660.4 1147.1 L1663.4 1148.5 L1666.4 1149.9 L1669.4 1151.3 L1672.4 1152.7 L1675.4 1154.0 L1678.4 1155.4 L1681.4 1156.7 L1684.4 1158.1 L1687.4 1159.4 L1690.4 1160.7 L1693.4 1162.0 L1696.4 1163.3 L1699.4 1164.6 L1702.4 1165.9 L1705.4 1167.2 L1708.4 1168.5 L1711.4 1169.7 L1714.4 1171.0 L1717.4 1172.2 L1720.4 1173.4 L1723.4 1174.7 L1726.4 1175.9 L1729.4 1177.1 L1732.4 1178.3 L1735.4 1179.5 L1738.4 1180.7 L1741.0 1181.7"/>
<path stroke="#ff8040" stroke-width="3.00" d="M218.0 44.0 L220.4 44.0 L223.4 44.0 L226.4 44.0 L229.4 44.1 L232.4 44.1 L235.4 44.1 L238.4 44.1 L241.4 44.1 L244.4 44.1 L247.4 44.1 L250.4 44.1 L253.4 44.1 L256.4 44.1 L259.4 44.1 L262.4 44.1 L265.4 44.1 L268.4 44.2 L271.4 44.2 L274.4 44.2 L277.4 44.2 L280.4 44.2 L283.4 44.2 L286.4 44.2 L289.4 44.2 L292.4 44.2 L295.4 44.2 L298.4 44.3 L301.4 44.3 L304.4 44.3 L307.4 44.3 L310.4 44.3 L313.4 44.3 L316.4 44.3 L319.4 44.4 L322.4 44.4 L325.4 44.4 L328.4 44.4 L331.4 44.4 L334.4 44.4 L337.4 44.4 L340.4 44.5 L343.4 44.5 L346.4 44.5 L349.4 44.5 L352.4 44.5 L355.4 44.6 L358.4 44.6 L361.4 44.6 L364.4 44.6 L367.4 44.7 L370.4 44.7 L373.4 44.7 L376.4 44.7 L379.4 44.8 L382.4 44.8 L385.4 44.8 L388.4 44.8 L391.4 44.9 L394.4 44.9 L397.4 44.9 L400.4 45.0 L403.4 45.0 L406.4 45.0 L409.4 45.1 L412.4 45.1 L415.4 45.1 L418.4 45.2 L421.4 45.2 L424.4 45.3 L427.4 45.3 L430.4 45.3 L433.4 45.4 L436.4 45.4 L439.4 45.5 L442.4 45.5 L445.4 45.6 L448.4 45.6 L451.4 45.7 L454.4 45.7 L457.4 45.8 L460.4 45.9 L463.4 45.9 L466.4 46.0 L469.4 46.0 L472.4 46.1 L475.4 46.2 L478.4 46.2 L481.4 46.3 L484.4 46.4 L487.4 46.5 L490.4 46.5 L493.4 46.6 L496.4 46.7 L499.4 46.8 L502.4 46.9 L505.4 47.0 L508.4 47.1 L511.4 47.2 L514.4 47.3 L517.4 47.4 L520.4 47.5 L523.4 47.6 L526.4 47.7 L529.4 47.8 L532.4 47.9 L535.4 48.0 L538.4 48.2 L541.4 48.3 L544.4 48.4 L547.4 48.6 L550.4 48.7 L553.4 48.9 L556.4 49.0 L559.4 49.2 L562.4 49.3 L565.4 49.5 L568.4 49.7 L571.4 49.8 L574.4 50.0 L577.4 50.2 L580.4 50.4 L583.4 50.6 L586.4 50.8 L589.4 51.0 L592.4 51.2 L595.4 51.4 L598.4 51.6 L601.4 51.9 L604.4 52.1 L607.4 52.4 L610.4 52.6 L613.4 52.9 L616.4 53.2 L619.4 53.4 L622.4 53.7 L625.4 54.0 L628.4 54.3 L631.4 54.6 L634.4 54.9 L637.4 55.3 L640.4 55.6 L643.4 56.0 L646.4 56.3 L649.4 56.7 L652.4 57.1 L655.4 57.5 L658.4 57.9 L661.4 58.3 L664.4 58.7 L667.4 59.2 L670.4 59.6 L673.4 60.1 L676.4 60.6 L679.4 61.1 L682.4 61.6 L685.4 62.1 L688.4 62.7 L691.4 63.2 L694.4 63.8 L697.4 64.4 L700.4 65.0 L703.4 65.6 L706.4 66.2 L709.4 66.9 L712.4 67.6 L715.4 68.3 L718.4 69.0 L721.4 69.7 L724.4 70.5 L727.4 71.3 L730.4 72.1 L733.4 72.9 L736.4 73.7 L739.4 74.6 L742.4 75.5 L745.4 76.4 L748.4 77.4 L751.4 78.3 L754.4 79.3 L757.4 80.4 L760.4 81.4 L763.4 82.5 L766.4 83.6 L769.4 84.8 L772.4 85.9 L775.4 87.1 L778.4 88.4 L781.4 89.6 L784.4 90.9 L787.4 92.3 L790.4 93.6 L793.4 95.0 L796.4 96.5 L799.4 97.9 L802.4 99.5 L805.4 101.0 L808.4 102.6 L811.4 104.2 L814.4 105.9 L817.4 107.6 L820.4 109.4 L823.4 111.2 L826.4 113.0 L829.4 114.9 L832.4 116.8 L835.4 118.8 L838.4 120.8 L841.4 122.9 L844.4 125.0 L847.4 127.2 L850.4 129.4 L853.4 131.6 L856.4 133.9 L859.4 136.3 L862.4 138.7 L865.4 141.2 L868.4 143.7 L871.4 146.3 L874.4 148.9 L877.4 151.6 L880.4 154.3 L883.4 157.1 L886.4 160.0 L889.4 162.9 L892.4 165.8 L895.4 168.8 L898.4 171.9 L901.4 175.0 L904.4 178.2 L907.4 181.4 L910.4 184.7 L913.4 188.1 L916.4 191.5 L919.4 194.9 L922.4 198.5 L925.4 202.0 L928.4 205.7 L931.4 209.3 L934.4 213.1 L937.4 216.9 L940.4 220.7 L943.4 224.6 L946.4 228.6 L949.4 232.6 L952.4 236.7 L955.4 240.8 L958.4 245.0 L961.4 249.2 L964.4 253.5 L967.4 257.8 L970.4 262.1 L973.4 266.5 L976.4 271.0 L979.4 275.5 L982.4 280.0 L985.4 284.6 L988.4 289.3 L991.4 293.9 L994.4 298.6 L997.4 303.4 L1000.4 308.2 L1003.4 313.0 L1006.4 317.8 L1009.4 322.7 L1012.4 327.6 L1015.4 332.6 L1018.4 337.5 L1021.4 342.5 L1024.4 347.6 L1027.4 352.6 L1030.4 357.7 L1033.4 362.8 L1036.4 367.9 L1039.4 373.0 L1042.4 378.1 L1045.4 383.3 L1048.4 388.5 L1051.4 393.7 L1054.4 398.9 L1057.4 404.1 L1060.4 409.3 L1063.4 414.5 L1066.4 419.7 L1069.4 424.9 L1072.4 430.2 L1075.4 435.4 L1078.4 440.6 L1081.4 445.9 L1084.4 451.1 L1087.4 456.3 L1090.4 461.5 L1093.4 466.8 L1096.4 472.0 L1099.4 477.2 L1102.4 482.4 L1105.4 487.6 L1108.4 492.7 L1111.4 497.9 L1114.4 503.0 L1117.4 508.2 L1120.4 513.3 L1123.4 518.4 L1126.4 523.5 L1129.4 528.6 L1132.4 533.6 L1135.4 538.7 L1138.4 543.7 L1141.4 548.7 L1144.4 553.7 L1147.4 558.6 L1150.4 563.6 L1153.4 568.5 L1156.4 573.4 L1159.4 578.3 L1162.4 583.1 L1165.4 588.0 L1168.4 592.8 L1171.4 597.6 L1174.4 602.3 L1177.4 607.1 L1180.4 611.8 L1183.4 616.5 L1186.4 621.2 L1189.4 625.8 L1192.4 630.4 L1195.4 635.0 L1198.4 639.6 L1201.4 644.2 L1204.4 648.7 L1207.4 653.2 L1210.4 657.7 L1213.4 662.1 L1216.4 666.5 L1219.4 670.9 L1222.4 675.3 L1225.4 679.6 L1228.4 684.0 L1231.4 688.3 L1234.4 692.5 L1237.4 696.8 L1240.4 701.0 L1243.4 705.2 L1246.4 709.4 L1249.4 713.5 L1252.4 717.7 L1255.4 721.8 L1258.4 725.8 L1261.4 729.9 L1264.4 733.9 L1267.4 737.9 L1270.4 741.9 L1273.4 745.8 L1276.4 749.8 L1279.4 753.7 L1282.4 757.5 L1285.4 761.4 L1288.4 765.2 L1291.4 769.1 L1294.4 772.8 L1297.4 776.6 L1300.4 780.4 L1303.4 784.1 L1306.4 787.8 L1309.4 791.4 L1312.4 795.1 L1315.4 798.7 L1318.4 802.3 L1321.4 805.9 L1324.4 809.5 L1327.4 813.0 L1330.4 816.6 L1333.4 820.1 L1336.4 823.5 L1339.4 827.0 L1342.4 830.4 L1345.4 833.9 L1348.4 837.3 L1351.4 840.6 L1354.4 844.0 L1357.4 847.3 L1360.4 850.7 L1363.4 854.0 L1366.4 857.2 L1369.4 860.5 L1372.4 863.8 L1375.4 867.0 L1378.4 870.2 L1381.4 873.4 L1384.4 876.5 L1387.4 879.7 L1390.4 882.8 L1393.4 885.9 L1396.4 889.0 L1399.4 892.1 L1402.4 895.2 L1405.4 898.2 L1408.4 901.2 L1411.4 904.2 L1414.4 907.2 L1417.4 910.2 L1420.4 913.2 L1423.4 916.1 L1426.4 919.0 L1429.4 921.9 L1432.4 924.8 L1435.4 927.7 L1438.4 930.6 L1441.4 933.4 L1444.4 936.3 L1447.4 939.1 L1450.4 941.9 L1453.4 944.7 L1456.4 947.4 L1459.4 950.2 L1462.4 952.9 L1465.4 955.6 L1468.4 958.4 L1471.4 961.1 L1474.4 963.7 L1477.4 966.4 L1480.4 969.1 L1483.4 971.7 L1486.4 974.3 L1489.4 976.9 L1492.4 979.5 L1495.4 982.1 L1498.4 984.7 L1501.4 987.3 L1504.4 989.8 L1507.4 992.3 L1510.4 994.9 L1513.4 997.4 L1516.4 999.9 L1519.4 1002.3 L1522.4 1004.8 L1525.4 1007.3 L1528.4 1009.7 L1531.4 1012.2 L1534.4 1014.6 L1537.4 1017.0 L1540.4 1019.4 L1543.4 1021.8 L1546.4 1024.2 L1549.4 1026.5 L1552.4 1028.9 L1555.4 1031.2 L1558.4 1033.5 L1561.4 1035.9 L1564.4 1038.2 L1567.4 1040.5 L1570.4 1042.8 L1573.4 1045.0 L1576.4 1047.3 L1579.4 1049.6 L1582.4 1051.8 L1585.4 1054.0 L1588.4 1056.3 L1591.4 1058.5 L1594.4 1060.7 L1597.4 1062.9 L1600.4 1065.1 L1603.4 1067.2 L1606.4 1069.4 L1609.4 1071.5 L1612.4 1073.7 L1615.4 1075.8 L1618.4 1078.0 L1621.4 1080.1 L1624.4 1082.2 L1627.4 1084.3 L1630.4 1086.4 L1633.4 1088.5 L1636.4 1090.5 L1639.4 1092.6 L1642.4 1094.6 L1645.4 1096.7 L1648.4 1098.7 L1651.4 1100.8 L1654.4 1102.8 L1657.4 1104.8 L1660.4 1106.8 L1663.4 1108.8 L1666.4 1110.8 L1669.4 1112.7 L1672.4 1114.7 L1675.4 1116.7 L1678.4 1118.6 L1681.4 1120.6 L1684.4 1122.5 L1687.4 1124.4 L1690.4 1126.4 L1693.4 1128.3 L1696.4 1130.2 L1699.4 1132.1 L1702.4 1134.0 L1705.4 1135.9 L1708.4 1137.8 L1711.4 1139.6 L1714.4 1141.5 L1717.4 1143.3 L1720.4 1145.2 L1723.4 1147.0 L1726.4 1148.9 L1729.4 1150.7 L1732.4 1152.5 L1735.4 1154.3 L1738.4 1156.1 L1741.0 1157.7"/>
<path stroke="#000000" stroke-width="7.00" d="M218.0 44.0 L220.4 44.0 L223.4 44.0 L226.4 44.0 L229.4 44.1 L232.4 44.1 L235.4 44.1 L238.4 44.1 L241.4 44.1 L244.4 44.1 L247.4 44.1 L250.4 44.1 L253.4 44.1 L256.4 44.1 L259.4 44.1 L262.4 44.1 L265.4 44.1 L268.4 44.2 L271.4 44.2 L274.4 44.2 L277.4 44.2 L280.4 44.2 L283.4 44.2 L286.4 44.2 L289.4 44.2 L292.4 44.2 L295.4 44.2 L298.4 44.3 L301.4 44.3 L304.4 44.3 L307.4 44.3 L310.4 44.3 L313.4 44.3 L316.4 44.3 L319.4 44.4 L322.4 44.4 L325.4 44.4 L328.4 44.4 L331.4 44.4 L334.4 44.4 L337.4 44.4 L340.4 44.5 L343.4 44.5 L346.4 44.5 L349.4 44.5 L352.4 44.5 L355.4 44.6 L358.4 44.6 L361.4 44.6 L364.4 44.6 L367.4 44.7 L370.4 44.7 L373.4 44.7 L376.4 44.7 L379.4 44.8 L382.4 44.8 L385.4 44.8 L388.4 44.8 L391.4 44.9 L394.4 44.9 L397.4 44.9 L400.4 45.0 L403.4 45.0 L406.4 45.0 L409.4 45.1 L412.4 45.1 L415.4 45.1 L418.4 45.2 L421.4 45.2 L424.4 45.3 L427.4 45.3 L430.4 45.3 L433.4 45.4 L436.4 45.4 L439.4 45.5 L442.4 45.5 L445.4 45.6 L448.4 45.6 L451.4 45.7 L454.4 45.7 L457.4 45.8 L460.4 45.9 L463.4 45.9 L466.4 46.0 L469.4 46.0 L472.4 46.1 L475.4 46.2 L478.4 46.2 L481.4 46.3 L484.4 46.4 L487.4 46.5 L490.4 46.5 L493.4 46.6 L496.4 46.7 L499.4 46.8 L502.4 46.9 L505.4 47.0 L508.4 47.1 L511.4 47.2 L514.4 47.3 L517.4 47.4 L520.4 47.5 L523.4 47.6 L526.4 47.7 L529.4 47.8 L532.4 47.9 L535.4 48.0 L538.4 48.2 L541.4 48.3 L544.4 48.4 L547.4 48.6 L550.4 48.7 L553.4 48.9 L556.4 49.0 L559.4 49.2 L562.4 49.3 L565.4 49.5 L568.4 49.7 L571.4 49.8 L574.4 50.0 L577.4 50.2 L580.4 50.4 L583.4 50.6 L586.4 50.8 L589.4 51.0 L592.4 51.2 L595.4 51.4 L598.4 51.6 L601.4 51.9 L604.4 52.1 L607.4 52.4 L610.4 52.6 L613.4 52.9 L616.4 53.2 L619.4 53.4 L622.4 53.7 L625.4 54.0 L628.4 54.3 L631.4 54.6 L634.4 54.9 L637.4 55.3 L640.4 55.6 L643.4 56.0 L646.4 56.3 L649.4 56.7 L652.4 57.1 L655.4 57.5 L658.4 57.9 L661.4 58.3 L664.4 58.7 L667.4 59.2 L670.4 59.6 L673.4 60.1 L676.4 60.6 L679.4 61.1 L682.4 61.6 L685.4 62.1 L688.4 62.7 L691.4 63.2 L694.4 63.8 L697.4 64.4 L700.4 65.0 L703.4 65.6 L706.4 66.2 L709.4 66.9 L712.4 67.6 L715.4 68.3 L718.4 69.0 L721.4 69.7 L724.4 70.5 L727.4 71.3 L730.4 72.1 L733.4 72.9 L736.4 73.7 L739.4 74.6 L742.4 75.5 L745.4 76.4 L748.4 77.4 L751.4 78.3 L754.4 79.3 L757.4 80.4 L760.4 81.4 L763.4 82.5 L766.4 83.6 L769.4 84.8 L772.4 85.9 L775.4 87.1 L778.4 88.4 L781.4 89.6 L784.4 90.9 L787.4 92.3 L790.4 93.6 L793.4 95.0 L796.4 96.5 L799.4 97.9 L802.4 99.5 L805.4 101.0 L808.4 102.6 L811.4 104.2 L814.4 105.9 L817.4 107.6 L820.4 109.4 L823.4 111.2 L826.4 113.0 L829.4 114.9 L832.4 116.8 L835.4 118.8 L838.4 120.8 L841.4 122.9 L844.4 125.0 L847.4 127.2 L850.4 129.4 L853.4 131.6 L856.4 133.9 L859.4 136.3 L862.4 138.7 L865.4 141.2 L868.4 143.7 L871.4 146.3 L874.4 148.9 L877.4 151.6 L880.4 154.3 L883.4 157.1 L886.4 160.0 L889.4 162.9 L892.4 165.8 L895.4 168.8 L898.4 171.9 L901.4 175.0 L904.4 178.2 L907.4 181.4 L910.4 184.7 L913.4 188.1 L916.4 191.5 L919.4 194.9 L922.4 198.5 L925.4 202.0 L928.4 205.7 L931.4 209.3 L934.4 213.1 L937.4 216.9 L940.4 220.7 L943.4 224.6 L946.4 228.6 L949.4 232.6 L952.4 236.7 L955.4 240.8 L958.4 245.0 L961.4 249.2 L964.4 253.5 L967.4 257.8 L970.4 262.1 L973.4 266.5 L976.4 271.0 L979.4 275.5 L982.4 280.0 L985.4 284.6 L988.4 289.3 L991.4 293.9 L994.4 298.6 L997.4 303.4 L1000.4 308.2 L1003.4 313.0 L1006.4 317.8 L1009.4 322.7 L1012.4 327.6 L1015.4 332.6 L1018.4 337.5 L1021.4 342.5 L1024.4 347.6 L1027.4 352.6 L1030.4 357.7 L1033.4 362.8 L1036.4 367.9 L1039.4 373.0 L1042.4 378.1 L1045.4 383.3 L1048.4 388.5 L1051.4 393.7 L1054.4 398.9 L1057.4 404.1 L1060.4 409.3 L1063.4 414.5 L1066.4 419.7 L1069.4 424.9 L1072.4 430.2 L1075.4 435.4 L1078.4 440.6 L1081.4 445.9 L1084.4 451.1 L1087.4 456.3 L1090.4 461.5 L1093.4 466.8 L1096.4 472.0 L1099.4 477.2 L1102.4 482.4 L1105.4 487.6 L1108.4 492.7 L1111.4 497.9 L1114.4 503.0 L1117.4 508.2 L1120.4 513.3 L1123.4 518.4 L1126.4 523.5 L1129.4 528.6 L1132.4 533.6 L1135.4 538.7 L1138.4 543.7 L1141.4 548.7 L1144.4 553.7 L1147.4 558.6 L1150.4 563.6 L1153.4 568.5 L1156.4 573.4 L1159.4 578.3 L1162.4 583.1 L1165.4 588.0 L1168.4 592.8 L1171.4 597.6 L1174.4 602.3 L1177.4 607.1 L1180.4 611.8 L1183.4 616.5 L1186.4 621.2 L1189.4 625.8 L1192.4 630.4 L1195.4 635.0 L1198.4 639.6 L1201.4 644.2 L1204.4 648.7 L1207.4 653.2 L1210.4 657.7 L1213.4 662.1 L1216.4 666.5 L1219.4 670.9 L1222.4 675.3 L1225.4 679.6 L1228.4 684.0 L1231.4 688.3 L1234.4 692.5 L1237.4 696.8 L1240.4 701.0 L1243.4 705.2 L1246.4 709.4 L1249.4 713.5 L1252.4 717.7 L1255.4 721.8 L1258.4 725.8 L1261.4 729.9 L1264.4 733.9 L1267.4 737.9 L1270.4 741.9 L1273.4 745.8 L1276.4 749.8 L1279.4 753.7 L1282.4 757.5 L1285.4 761.4 L1288.4 765.2 L1291.4 769.1 L1294.4 772.8 L1297.4 776.6 L1300.4 780.4 L1303.4 784.1 L1306.4 787.8 L1309.4 791.4 L1312.4 795.1 L1315.4 798.7 L1318.4 802.3 L1321.4 805.9 L1324.4 809.5 L1327.4 813.0 L1330.4 816.6 L1333.4 820.1 L1336.4 823.5 L1339.4 827.0 L1342.4 830.4 L1345.4 833.9 L1348.4 837.3 L1351.4 840.6 L1354.4 844.0 L1357.4 847.3 L1360.4 850.7 L1363.4 854.0 L1366.4 857.2 L1369.4 860.5 L1372.4 863.8 L1375.4 867.0 L1378.4 870.2 L1381.4 873.4 L1384.4 876.5 L1387.4 879.7 L1390.4 882.8 L1393.4 885.9 L1396.4 889.0 L1399.4 892.1 L1402.4 895.2 L1405.4 898.2 L1408.4 901.2 L1411.4 904.2 L1414.4 907.2 L1417.4 910.2 L1420.4 913.2 L1423.4 916.1 L1426.4 919.0 L1429.4 921.9 L1432.4 924.8 L1435.4 927.7 L1438.4 930.6 L1441.4 933.4 L1444.4 936.3 L1447.4 939.1 L1450.4 941.9 L1453.4 944.7 L1456.4 947.4 L1459.4 950.2 L1462.4 952.9 L1465.4 955.6 L1468.4 958.4 L1471.4 961.1 L1474.4 963.7 L1477.4 966.4 L1480.4 969.1 L1483.4 971.7 L1486.4 974.3 L1489.4 976.9 L1492.4 979.5 L1495.4 982.1 L1498.4 984.7 L1501.4 987.3 L1504.4 989.8 L1507.4 992.3 L1510.4 994.9 L1513.4 997.4 L1516.4 999.9 L1519.4 1002.3 L1522.4 1004.8 L1525.4 1007.3 L1528.4 1009.7 L1531.4 1012.2 L1534.4 1014.6 L1537.4 1017.0 L1540.4 1019.4 L1543.4 1021.8 L1546.4 1024.2 L1549.4 1026.5 L1552.4 1028.9 L1555.4 1031.2 L1558.4 1033.5 L1561.4 1035.9 L1564.4 1038.2 L1567.4 1040.5 L1570.4 1042.8 L1573.4 1045.0 L1576.4 1047.3 L1579.4 1049.6 L1582.4 1051.8 L1585.4 1054.0 L1588.4 1056.3 L1591.4 1058.5 L1594.4 1060.7 L1597.4 1062.9 L1600.4 1065.1 L1603.4 1067.2 L1606.4 1069.4 L1609.4 1071.5 L1612.4 1073.7 L1615.4 1075.8 L1618.4 1078.0 L1621.4 1080.1 L1624.4 1082.2 L1627.4 1084.3 L1630.4 1086.4 L1633.4 1088.5 L1636.4 1090.5 L1639.4 1092.6 L1642.4 1094.6 L1645.4 1096.7 L1648.4 1098.7 L1651.4 1100.8 L1654.4 1102.8 L1657.4 1104.8 L1660.4 1106.8 L1663.4 1108.8 L1666.4 1110.8 L1669.4 1112.7 L1672.4 1114.7 L1675.4 1116.7 L1678.4 1118.6 L1681.4 1120.6 L1684.4 1122.5 L1687.4 1124.4 L1690.4 1126.4 L1693.4 1128.3 L1696.4 1130.2 L1699.4 1132.1 L1702.4 1134.0 L1705.4 1135.9 L1708.4 1137.8 L1711.4 1139.6 L1714.4 1141.5 L1717.4 1143.3 L1720.4 1145.2 L1723.4 1147.0 L1726.4 1148.9 L1729.4 1150.7 L1732.4 1152.5 L1735.4 1154.3 L1738.4 1156.1 L1741.0 1157.7"/>
</g>
<g font-size="66.67px" text-anchor="end">
<text x="196.5" y="1240.0">0</text>
<text x="196.5" y="1004.3">20</text>
<text x="196.5" y="768.6">40</text>
<text x="196.5" y="533.0">60</text>
<text x="196.5" y="297.3">80</text>
<text x="196.5" y="61.6">100</text>
</g>
<g font-size="66.67px" text-anchor="start">
<text x="186.9" y="1308.0">10<tspan font-size="46.00px" dx="0.4" dy="-28.5">0</tspan></text>
<text x="459.5" y="1308.0">10<tspan font-size="46.00px" dx="0.4" dy="-28.5">1</tspan></text>
<text x="732.1" y="1308.0">10<tspan font-size="46.00px" dx="0.4" dy="-28.5">2</tspan></text>
<text x="1004.7" y="1308.0">10<tspan font-size="46.00px" dx="0.4" dy="-28.5">3</tspan></text>
<text x="1277.3" y="1308.0">10<tspan font-size="46.00px" dx="0.4" dy="-28.5">4</tspan></text>
<text x="1549.9" y="1308.0">10<tspan font-size="46.00px" dx="0.4" dy="-28.5">5</tspan></text>
<text x="1822.5" y="1308.0">10<tspan font-size="46.00px" dx="0.4" dy="-28.5">6</tspan></text>
</g>
<text x="1055.3" y="1399.0" font-size="75.00px" text-anchor="middle" textLength="405.5">Suction (kPa)</text>
<text transform="translate(81.0 626.0) rotate(-90)" font-size="75.00px" text-anchor="middle">Degree of saturation (%)</text>
<g shape-rendering="crispEdges">
<circle cx="484.5" cy="573.0" r="17.60" fill="none" stroke="#000" stroke-width="7.20"/>
<text x="569.0" y="598.5" font-size="66.67px">Test data</text>
<line x1="419.5" y1="639.5" x2="550.5" y2="639.5" stroke="#ff0000" stroke-width="7.00" stroke-linecap="round"/>
<text x="566.2" y="664.2" font-size="66.67px">F1</text>
<line x1="419.5" y1="705.5" x2="550.5" y2="705.5" stroke="#0000ff" stroke-width="7.00" stroke-linecap="round"/>
<text x="566.2" y="730.2" font-size="66.67px">F2</text>
<line x1="419.5" y1="772.5" x2="550.5" y2="772.5" stroke="#00ffff" stroke-width="7.00" stroke-linecap="round"/>
<text x="566.2" y="797.2" font-size="66.67px">F3</text>
<line x1="419.5" y1="843.5" x2="550.5" y2="843.5" stroke="#ff00ff" stroke-width="7.00" stroke-linecap="round"/>
<text x="566.2" y="868.2" font-size="66.67px">F4</text>
<line x1="419.5" y1="910.5" x2="550.5" y2="910.5" stroke="#ff8040" stroke-width="3.00" stroke-linecap="round"/>
<text x="566.2" y="935.2" font-size="66.67px">F5</text>
<line x1="419.5" y1="977.0" x2="550.5" y2="977.0" stroke="#000000" stroke-width="6.00" stroke-linecap="round"/>
<text x="566.2" y="1001.7" font-size="66.67px">F6</text>
<line x1="419.5" y1="1044.0" x2="550.5" y2="1044.0" stroke="#00ff00" stroke-width="6.00" stroke-linecap="round"/>
<text x="566.2" y="1068.7" font-size="66.67px">F7</text>
</g>
</svg></body></html>
